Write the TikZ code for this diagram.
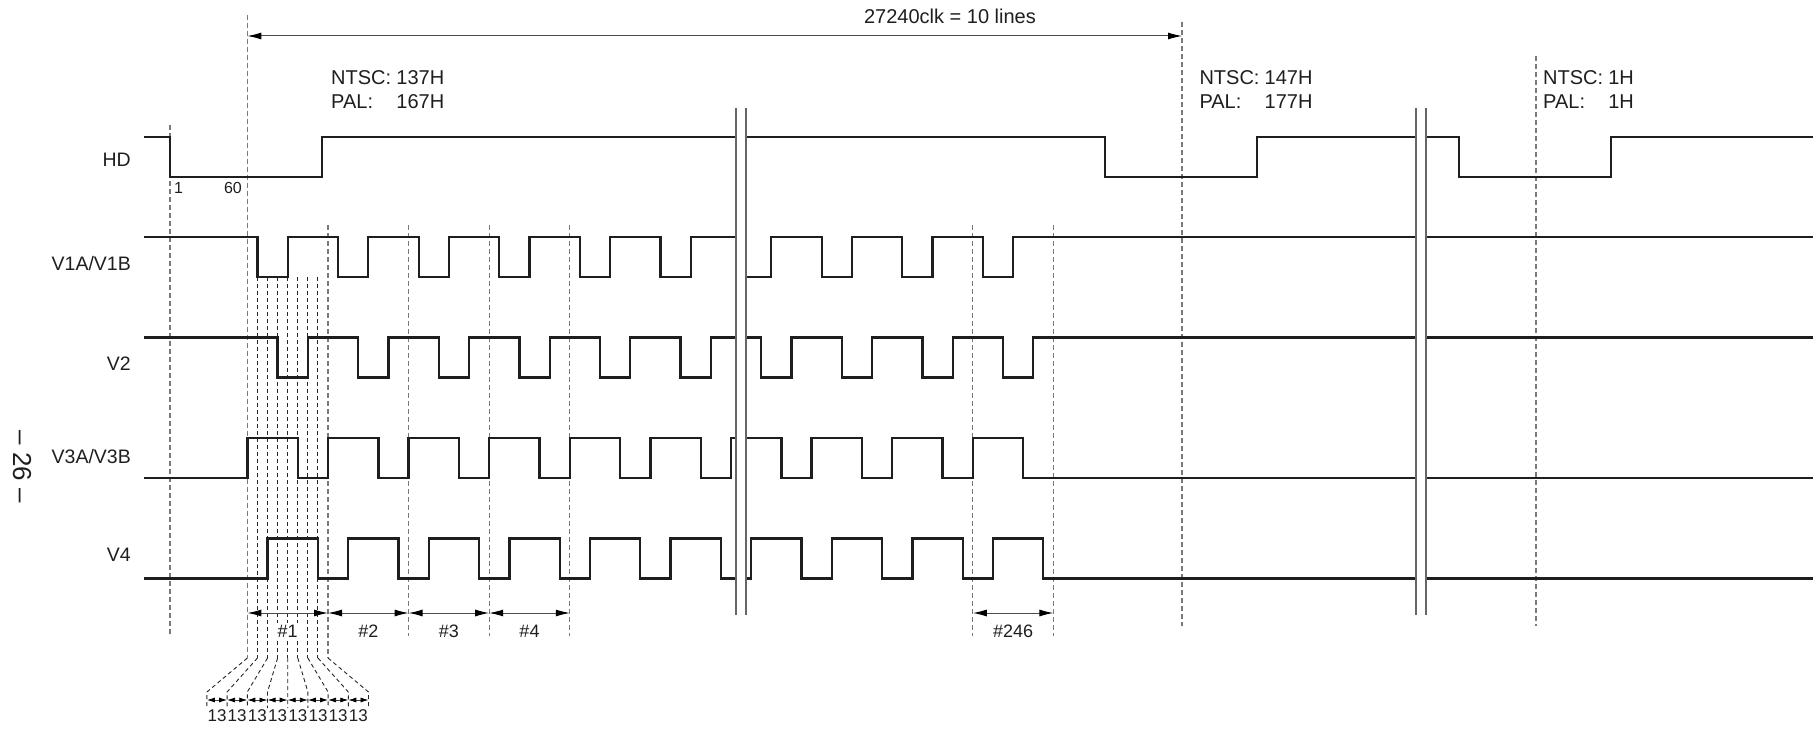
\documentclass[tikz,border=0pt]{standalone}
\usepackage{fontspec}
\setmainfont{Liberation Sans}
\usetikzlibrary{arrows.meta}
\definecolor{dashgray}{HTML}{7A7A7A}
\definecolor{wavecol}{HTML}{1E1E1E}
\begin{document}
\begin{tikzpicture}[x=1pt,y=-1pt,
  wave/.style={line width=2.3pt, color=wavecol},
  guide/.style={line width=1.2pt, color=dashgray, dash pattern=on 5pt off 3pt},
  fine/.style={line width=0.9pt, color=black!85, dash pattern=on 4pt off 3pt},
  brk/.style={line width=1.4pt, color=black!60},
  dimarrow/.style={line width=1pt, color=black!70, {Latex[length=14pt,width=7pt,color=black]}-{Latex[length=14pt,width=7pt,color=black]}},
  sdim/.style={line width=0.8pt, color=black!75, {Latex[length=8pt,width=5pt,color=black]}-{Latex[length=8pt,width=5pt,color=black]}},
  lab/.style={font=\fontsize{20}{24}\selectfont, inner sep=0pt, text=wavecol},
  sig/.style={font=\fontsize{19.5}{23}\selectfont, inner sep=0pt, anchor=base east, text=wavecol},
  num/.style={font=\fontsize{16}{19}\selectfont, inner sep=0pt, text=wavecol},
  hash/.style={font=\fontsize{18}{21}\selectfont, inner sep=2pt, anchor=base, fill=white, text=wavecol},
  clk/.style={font=\fontsize{17}{20}\selectfont, inner sep=0pt, anchor=base, text=wavecol}
]
\useasboundingbox (0,0) rectangle (1820,730);

% ---------- signal names ----------
\node[sig] (nHD) at (131,167) {HD};
\node[sig] (nV1) at (131,270.3) {V1A/V1B};
\node[sig] (nV2) at (131,370.3) {V2};
\node[sig] (nV3) at (131,463) {V3A/V3B};
\node[sig] (nV4) at (131,561) {V4};
\node[font=\fontsize{26}{30}\selectfont, rotate=-90, inner sep=0pt, text=wavecol] (page) at (22,467) {– 26 –};

% ---------- guide lines ----------
\foreach \x/\a/\b in {170/125/635, 247.4/15/658, 328/225/658, 408.6/225/636, 489.2/225/636, 569.8/225/636, 972.8/225/636, 1053.4/225/636, 1182/22/626, 1536/56/626}
  \draw[guide] (\x,\a) -- (\x,\b);
\foreach \k in {1,...,7}
  \draw[fine] ({247.4+10.075*\k},277) -- ++(0,381);
\foreach \k in {0,...,8}
  \draw[fine] ({247.4+10.075*\k},658) -- ({287.7+20.2*(\k-4)},692) -- ++(0,16);

% ---------- waveforms ----------
\draw[wave] (144,137) -- (170,137) -- (170,177) -- (321.7,177) -- (321.7,137)
  -- (1105,137) -- (1105,177) -- (1257.3,177) -- (1257.3,137)
  -- (1459.3,137) -- (1459.3,177) -- (1611,177) -- (1611,137) -- (1813,137);
\draw[wave] (144,237) \foreach \n [evaluate=\n as \st using 247.4+80.6*\n] in {0,...,9}
  { -- ({\st+10.075},237) -- ++(0,40) -- ++(30.225,0) -- ++(0,-40) } -- (1813,237);
\draw[wave] (144,337.5) \foreach \n [evaluate=\n as \st using 247.4+80.6*\n] in {0,...,9}
  { -- ({\st+30.225},337.5) -- ++(0,40) -- ++(30.225,0) -- ++(0,-40) } -- (1813,337.5);
\draw[wave] (144,478) \foreach \n [evaluate=\n as \st using 247.4+80.6*\n] in {0,...,9}
  { -- (\st,478) -- ++(0,-40) -- ++(50.375,0) -- ++(0,40) } -- (1813,478);
\draw[wave] (144,578.5) \foreach \n [evaluate=\n as \st using 247.4+80.6*\n] in {0,...,9}
  { -- ({\st+20.15},578.5) -- ++(0,-40) -- ++(50.375,0) -- ++(0,40) } -- (1813,578.5);

% ---------- breaks ----------
\fill[white] (736.8,104) rectangle (745.2,618);
\fill[white] (1416.8,104) rectangle (1425.2,618);
\foreach \x in {736,746,1416,1426}
  \draw[brk] (\x,108) -- (\x,615);

% ---------- HD marks ----------
\node[num, anchor=base west] (m1) at (174,194) {1};
\node[num, anchor=base east] (m60) at (242,194) {60};

% ---------- top span ----------
\coordinate (tl) at (247.4,36);
\coordinate (tr) at (1182,36);
\draw[dimarrow] (tl) -- (tr);
\node[lab, anchor=base] (span) at (950,24) {27240clk = 10 lines};

% ---------- NTSC / PAL ----------
\node[lab, anchor=base west] (a1) at (331,85) {NTSC:};
\node[lab, anchor=base east] (a2) at (444.4,85) {137H};
\node[lab, anchor=base west] (a3) at (331,109) {PAL:};
\node[lab, anchor=base east] (a4) at (444.4,109) {167H};
\node[lab, anchor=base west] (b1) at (1199.3,85) {NTSC:};
\node[lab, anchor=base east] (b2) at (1312.7,85) {147H};
\node[lab, anchor=base west] (b3) at (1199.3,109) {PAL:};
\node[lab, anchor=base east] (b4) at (1312.7,109) {177H};
\node[lab, anchor=base west] (c1) at (1543,85) {NTSC:};
\node[lab, anchor=base east] (c2) at (1634,85) {1H};
\node[lab, anchor=base west] (c3) at (1543,109) {PAL:};
\node[lab, anchor=base east] (c4) at (1634,109) {1H};

% ---------- period dimensions ----------
\foreach \a/\b/\t [count=\i] in {247.4/328/1, 328/408.6/2, 408.6/489.2/3, 489.2/569.8/4, 972.8/1053.4/246} {
  \coordinate (p\i a) at (\a,613);
  \coordinate (p\i b) at (\b,613);
  \draw[dimarrow] (p\i a) -- (p\i b);
  \node[hash] (h\i) at ({(\a+\b)/2},637) {\#\t};
}

% ---------- 13 clk subdivisions ----------
\foreach \k in {0,...,7} {
  \coordinate (s\k a) at ({287.7+20.2*(\k-4)},700);
  \coordinate (s\k b) at ({287.7+20.2*(\k-3)},700);
  \draw[sdim] (s\k a) -- (s\k b);
  \node[clk] (t\k) at ({287.7+20.2*(\k-3.5)},721) {13};
}
\end{tikzpicture}
\end{document}
